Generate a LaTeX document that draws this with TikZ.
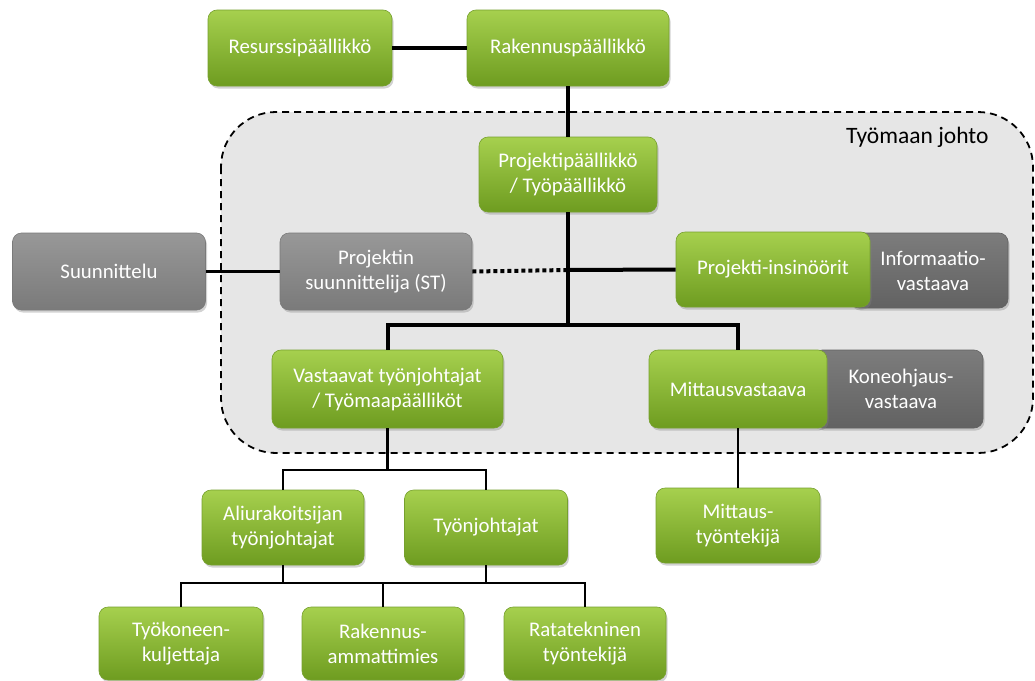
\documentclass[tikz,border=0pt]{standalone}
\usepackage{fontspec}
\setmainfont{Carlito}
\usetikzlibrary{shadows}
\definecolor{gtop}{RGB}{166,208,78}
\definecolor{gbot}{RGB}{110,156,32}
\definecolor{gedge}{RGB}{118,160,46}
\definecolor{ltop}{RGB}{152,152,152}
\definecolor{lbot}{RGB}{122,122,122}
\definecolor{dtop}{RGB}{124,124,124}
\definecolor{dbot}{RGB}{98,98,98}
\definecolor{zone}{RGB}{230,230,230}
\tikzset{
  box/.style={rounded corners=9pt, align=center, text=white, inner sep=2pt,
    font=\fontsize{20.8}{25}\selectfont,
    drop shadow={opacity=0.35, shadow xshift=1.5pt, shadow yshift=-2.5pt}},
  greenbox/.style={box, top color=gtop, bottom color=gbot, draw=gedge, line width=0.6pt},
  lightbox/.style={box, top color=ltop, bottom color=lbot, draw=lbot, line width=0.6pt},
  darkbox/.style={box, top color=dtop, bottom color=dbot, draw=dbot, line width=0.6pt},
  heavy/.style={line width=4pt},
  light/.style={line width=2.2pt},
}
\begin{document}
\begin{tikzpicture}[x=1pt,y=-1pt]
\useasboundingbox (0,0) rectangle (1035,680);
\fill[white] (0,0) rectangle (1035,680);

% site management area
\draw[fill=zone, dash pattern=on 7pt off 5pt, line width=1.8pt, rounded corners=55pt]
  (221,112) rectangle (1033,453);
\node[font=\fontsize{23.5}{27}\selectfont, anchor=east] (zonelabel) at (992,137) {Työmaan johto};

% junction points
\coordinate (mid) at (568,270);
\coordinate (bus) at (568,325);
\coordinate (lowa) at (387.5,470);
\coordinate (lowb) at (385,583);

% boxes
\node[greenbox, minimum width=184pt, minimum height=76pt] (res) at (300,48) {Resurssipäällikkö};
\node[greenbox, minimum width=202pt, minimum height=76pt] (rak) at (568,48) {Rakennuspäällikkö};
\node[greenbox, minimum width=178pt, minimum height=75pt] (proj) at (568,174.5) {Projektipäällikkö\\/ Työpäällikkö};
\node[lightbox, minimum width=193pt, minimum height=77pt] (suun) at (109,271.5) {Suunnittelu};
\node[lightbox, minimum width=192pt, minimum height=77pt] (pst) at (376,271.5) {Projektin\\suunnittelija (ST)};
\node[darkbox, minimum width=158pt, minimum height=75pt] (info) at (929,270.5) {\hspace*{8pt}Informaatio-\\\hspace*{8pt}vastaava};
\node[greenbox, minimum width=194pt, minimum height=75pt] (pi) at (773,269.5) {Projekti-insinöörit};
\node[darkbox, minimum width=170pt, minimum height=78pt] (kone) at (898,389) {\hspace*{6pt}Koneohjaus-\\\hspace*{6pt}vastaava};
\node[greenbox, minimum width=178pt, minimum height=78pt] (mitv) at (738,389) {Mittausvastaava};
\node[greenbox, minimum width=231pt, minimum height=78pt] (vast) at (387.5,389) {Vastaavat työnjohtajat\\/ Työmaapäälliköt};
\node[greenbox, minimum width=162pt, minimum height=75pt] (ali) at (283,527.5) {Aliurakoitsijan\\työnjohtajat};
\node[greenbox, minimum width=163pt, minimum height=75pt] (tyo) at (486,527.5) {Työnjohtajat};
\node[greenbox, minimum width=164pt, minimum height=75pt] (mtt) at (738,525.5) {Mittaus-\\työntekijä};
\node[greenbox, minimum width=164pt, minimum height=73pt] (tk) at (181,643.5) {Työkoneen-\\kuljettaja};
\node[greenbox, minimum width=162pt, minimum height=73pt] (rm) at (383,643.5) {Rakennus-\\ammattimies};
\node[greenbox, minimum width=162pt, minimum height=73pt] (rt) at (585,643.5) {Ratatekninen\\työntekijä};

% connectors
\draw[heavy] (res.east) -- (rak.west);
\draw[heavy] (rak.south) -- (proj.north);
\draw[heavy] (proj.south) -- (bus);
\draw[heavy] (vast.north) -- (vast.north |- bus) -- (mitv.north |- bus) -- (mitv.north);
\draw[heavy] (mid) -- (pi.west);
\draw[heavy, dash pattern=on 4pt off 3pt] (pst.east) -- (mid);
\draw[light] (suun.east) -- (pst.west);
\draw[light] (vast.south) -- (lowa);
\draw[light] (ali.north) -- (ali.north |- lowa) -- (tyo.north |- lowa) -- (tyo.north);
\draw[light] (mitv.south) -- (mtt.north);
\draw[light] (ali.south) -- (ali.south |- lowb);
\draw[light] (tyo.south) -- (tyo.south |- lowb);
\draw[light] (tk.north) -- (tk.north |- lowb) -- (rt.north |- lowb) -- (rt.north);
\draw[light] (rm.north) -- (rm.north |- lowb);
\end{tikzpicture}
\end{document}
